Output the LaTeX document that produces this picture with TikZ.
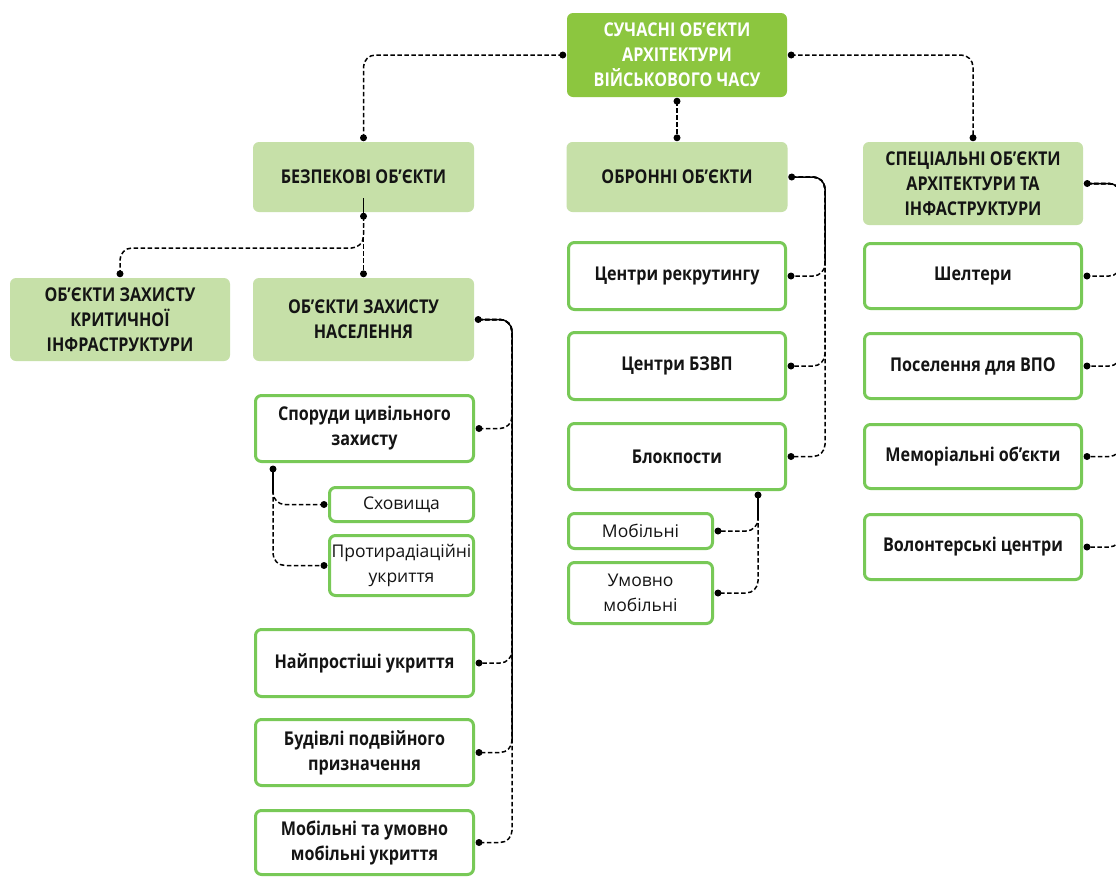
\documentclass[tikz,border=0pt]{standalone}
\usepackage{fontspec}
\setmainfont{Open Sans}[FakeStretch=0.85]
\newfontfamily\subfam{Open Sans}
\definecolor{topgreen}{HTML}{8CC63F}
\definecolor{catgreen}{HTML}{C6E0A8}
\definecolor{bordergreen}{HTML}{78C957}
\definecolor{ink}{HTML}{141414}
\tikzset{
  topbox/.style={fill=topgreen, rounded corners=6pt, text=white, align=center, inner sep=0pt,
    font=\fontsize{19}{25}\selectfont\bfseries},
  catbox/.style={fill=catgreen, rounded corners=6pt, text=ink, align=center, inner sep=0pt,
    font=\fontsize{19}{25}\selectfont\bfseries},
  itembox/.style={draw=bordergreen, line width=3pt, fill=white, rounded corners=6pt, text=ink,
    align=center, inner sep=0pt, font=\fontsize{19}{25}\selectfont\bfseries},
  subbox/.style={itembox, font=\subfam\fontsize{17.5}{25}\selectfont},
  dot/.style={circle, fill=black, inner sep=0pt, minimum size=7pt},
  link/.style={line width=1.5pt, dash pattern=on 4.5pt off 2.5pt, rounded corners=12pt},
  solidlink/.style={line width=1.5pt, rounded corners=12pt},
}
\begin{document}
\begin{tikzpicture}[x=1pt,y=-1pt]
\clip (0,0) rectangle (1116,876);
\fill[white] (0,0) rectangle (1116,876);

% ---- boxes ----
\node[topbox, minimum width=220pt, minimum height=84pt] (top) at (677,55) {СУЧАСНІ ОБ’ЄКТИ\\АРХІТЕКТУРИ\\ВІЙСЬКОВОГО ЧАСУ};
\node[catbox, minimum width=221pt, minimum height=70pt] (bez) at (363.5,177) {БЕЗПЕКОВІ ОБ’ЄКТИ};
\node[catbox, minimum width=221pt, minimum height=70pt] (obr) at (677,177) {ОБРОННІ ОБ’ЄКТИ};
\node[catbox, minimum width=220pt, minimum height=83pt] (spec) at (973,183.5) {СПЕЦІАЛЬНІ ОБ’ЄКТИ\\АРХІТЕКТУРИ ТА\\ІНФАСТРУКТУРИ};
\node[catbox, minimum width=220pt, minimum height=83pt] (krit) at (120,319.5) {ОБ’ЄКТИ ЗАХИСТУ\\КРИТИЧНОЇ\\ІНФРАСТРУКТУРИ};
\node[catbox, minimum width=221pt, minimum height=83pt] (nas) at (363.5,319.5) {ОБ’ЄКТИ ЗАХИСТУ\\НАСЕЛЕННЯ};

\node[itembox, minimum width=218pt, minimum height=66pt] (spor) at (364.5,428.5) {Споруди цивільного\\захисту};
\node[subbox, minimum width=144pt, minimum height=34pt] (skh) at (401.5,504.5) {Сховища};
\node[subbox, minimum width=144pt, minimum height=60pt] (prot) at (401.5,565.5) {Протирадіаційні\\укриття};
\node[itembox, minimum width=218pt, minimum height=67pt] (najp) at (364.5,663) {Найпростіші укриття};
\node[itembox, minimum width=218pt, minimum height=66pt] (bud) at (364.5,752.5) {Будівлі подвійного\\призначення};
\node[itembox, minimum width=218pt, minimum height=64pt] (mob) at (364.5,842.5) {Мобільні та умовно\\мобільні укриття};

\node[itembox, minimum width=217pt, minimum height=67pt] (rekr) at (677,276) {Центри рекрутингу};
\node[itembox, minimum width=217pt, minimum height=67pt] (bzvp) at (677,366) {Центри БЗВП};
\node[itembox, minimum width=217pt, minimum height=66pt] (blok) at (677,456.5) {Блокпости};
\node[subbox, minimum width=144pt, minimum height=35pt] (mobl) at (640.5,531) {Мобільні};
\node[subbox, minimum width=144pt, minimum height=61pt] (umob) at (640.5,593) {Умовно\\мобільні};

\node[itembox, minimum width=217pt, minimum height=65pt] (shel) at (973,276) {Шелтери};
\node[itembox, minimum width=217pt, minimum height=65pt] (pos) at (973,366) {Поселення для ВПО};
\node[itembox, minimum width=217pt, minimum height=64pt] (mem) at (973,456.5) {Меморіальні об’єкти};
\node[itembox, minimum width=217pt, minimum height=65pt] (vol) at (973,547) {Волонтерські центри};

% ---- dot coordinates ----
\coordinate (dTL) at ([xshift=-4pt]top.west);
\coordinate (dTR) at ([xshift=4pt]top.east);
\coordinate (dTB) at ([yshift=-4pt]top.south);
\coordinate (dBezT) at ([yshift=4pt]bez.north);
\coordinate (dObrT) at ([yshift=4pt]obr.north);
\coordinate (dSpecT) at ([yshift=4pt]spec.north);
\coordinate (dBezB) at ([yshift=-4pt]bez.south);
\coordinate (dKritT) at ([yshift=4pt]krit.north);
\coordinate (dNasT) at ([yshift=4pt]nas.north);
\coordinate (jB) at (0,248);

\coordinate (dNasR) at ([xshift=4pt]nas.east);
\coordinate (tN) at (512,0);
\coordinate (dSporR) at ([xshift=4pt]spor.east);
\coordinate (dNajpR) at ([xshift=4pt]najp.east);
\coordinate (dBudR) at ([xshift=4pt]bud.east);
\coordinate (dMobR) at ([xshift=4pt]mob.east);

\coordinate (dSporB) at (273,469);
\coordinate (dSkhL) at ([xshift=-4pt]skh.west);
\coordinate (dProtL) at ([xshift=-4pt]prot.west);

\coordinate (dObrR) at ([xshift=4pt]obr.east);
\coordinate (tO) at (825,0);
\coordinate (dRekrR) at ([xshift=4pt]rekr.east);
\coordinate (dBzvpR) at ([xshift=4pt]bzvp.east);
\coordinate (dBlokR) at ([xshift=4pt]blok.east);

\coordinate (dBlokB) at (758,495);
\coordinate (dMoblR) at ([xshift=4pt]mobl.east);
\coordinate (dUmobR) at ([xshift=4pt]umob.east);

\coordinate (dSpecR) at ([xshift=4pt]spec.east);
\coordinate (tS) at (1121,0);
\coordinate (dShelR) at ([xshift=4pt]shel.east);
\coordinate (dPosR) at ([xshift=4pt]pos.east);
\coordinate (dMemR) at ([xshift=4pt]mem.east);
\coordinate (dVolR) at ([xshift=4pt]vol.east);

% ---- connectors ----
\draw[link] (dTL) -| (dBezT);
\draw[link] (dTR) -| (dSpecT);
\draw[link] (dTB) -- (dObrT);

\draw[solidlink] (dBezB) -- ++(0,-18);
\draw[link] (dBezB) -- (dBezB |- jB) -| (dKritT);
\draw[link] (dBezB) -- (dNasT);

\draw[solidlink] (dNasR) -- (dNasR -| tN) -- ([yshift=12pt]tN |- dBudR);
\draw[link] (dNasR) -- (dNasR -| tN) -- (tN |- dSporR) -- (dSporR);
\draw[link] (dNasR) -- (dNasR -| tN) -- (tN |- dNajpR) -- (dNajpR);
\draw[link] (dNasR) -- (dNasR -| tN) -- (tN |- dBudR) -- (dBudR);
\draw[link] (dNasR) -- (dNasR -| tN) -- (tN |- dMobR) -- (dMobR);

\draw[solidlink] (dSporB) -- ([yshift=12pt]dSporB |- dSkhL);
\draw[link] (dSporB) -- (dSporB |- dSkhL) -- (dSkhL);
\draw[link] (dSporB) -- (dSporB |- dProtL) -- (dProtL);

\draw[solidlink] (dObrR) -- (dObrR -| tO) -- ([yshift=12pt]tO |- dRekrR);
\draw[link] (dObrR) -- (dObrR -| tO) -- (tO |- dRekrR) -- (dRekrR);
\draw[link] (dObrR) -- (dObrR -| tO) -- (tO |- dBzvpR) -- (dBzvpR);
\draw[link] (dObrR) -- (dObrR -| tO) -- (tO |- dBlokR) -- (dBlokR);

\draw[solidlink] (dBlokB) -- ([yshift=12pt]dBlokB |- dMoblR);
\draw[link] (dBlokB) -- (dBlokB |- dMoblR) -- (dMoblR);
\draw[link] (dBlokB) -- (dBlokB |- dUmobR) -- (dUmobR);

\draw[solidlink] (dSpecR) -- (dSpecR -| tS) -- ([yshift=12pt]tS |- dMemR);
\draw[link] (dSpecR) -- (dSpecR -| tS) -- (tS |- dShelR) -- (dShelR);
\draw[link] (dSpecR) -- (dSpecR -| tS) -- (tS |- dPosR) -- (dPosR);
\draw[link] (dSpecR) -- (dSpecR -| tS) -- (tS |- dMemR) -- (dMemR);
\draw[link] (dSpecR) -- (dSpecR -| tS) -- (tS |- dVolR) -- (dVolR);

% ---- dots ----
\foreach \p in {dTL,dTR,dTB,dBezT,dObrT,dSpecT,dBezB,dKritT,dNasT,dNasR,dSporR,dNajpR,dBudR,dMobR,
  dSporB,dSkhL,dProtL,dObrR,dRekrR,dBzvpR,dBlokR,dBlokB,dMoblR,dUmobR,dSpecR,dShelR,dPosR,dMemR,dVolR}
  \node[dot] at (\p) {};
\end{tikzpicture}
\end{document}
